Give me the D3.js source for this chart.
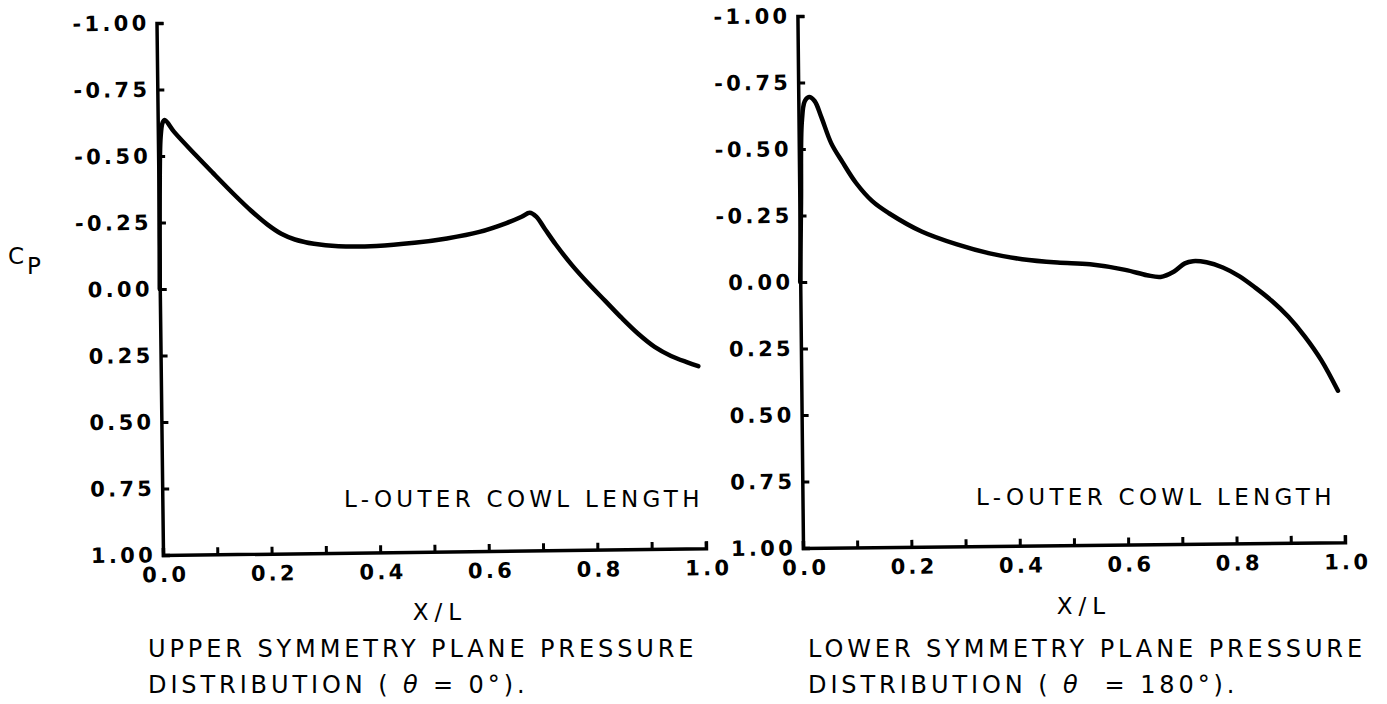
<!DOCTYPE html>
<html>
<head>
<meta charset="utf-8">
<script src="https://cdn.jsdelivr.net/npm/d3@7"></script>
<style>
  body { margin: 0; background: #fff; }
  svg { display: block; }
  .tick text { font-family: "DejaVu Sans", sans-serif; font-weight: bold; font-size: 21px; letter-spacing: 3.3px; fill: #000; }
  .lbl { font-family: "DejaVu Sans", sans-serif; font-size: 23px; fill: #000; }
</style>
</head>
<body>
<svg width="1387" height="704"></svg>
<script>
// upper symmetry plane (theta = 0)
var upperX  = [0.0, 0.002, 0.005, 0.009, 0.013, 0.03, 0.07, 0.1, 0.14, 0.17, 0.2, 0.225, 0.25, 0.285, 0.33, 0.4, 0.47, 0.53, 0.59, 0.64, 0.668, 0.683, 0.695, 0.71, 0.73, 0.76, 0.79, 0.82, 0.85, 0.88, 0.91, 0.94, 0.97, 0.99];
var upperCp = [0.0, -0.35, -0.57, -0.625, -0.635, -0.59, -0.5, -0.435, -0.35, -0.29, -0.237, -0.202, -0.18, -0.163, -0.153, -0.152, -0.162, -0.177, -0.2, -0.232, -0.255, -0.27, -0.255, -0.21, -0.15, -0.07, 0.0, 0.065, 0.13, 0.19, 0.24, 0.275, 0.3, 0.315];

// lower symmetry plane (theta = 180)
var lowerX  = [0.0, 0.003, 0.006, 0.012, 0.02, 0.03, 0.042, 0.06, 0.08, 0.105, 0.135, 0.165, 0.225, 0.29, 0.35, 0.41, 0.475, 0.535, 0.6, 0.64, 0.665, 0.69, 0.71, 0.725, 0.75, 0.78, 0.81, 0.84, 0.87, 0.9, 0.93, 0.96, 0.99];
var lowerCp = [0.0, -0.3, -0.6, -0.68, -0.695, -0.68, -0.62, -0.52, -0.45, -0.37, -0.3, -0.255, -0.185, -0.135, -0.1, -0.077, -0.063, -0.055, -0.033, -0.012, -0.005, -0.025, -0.055, -0.063, -0.058, -0.038, -0.005, 0.04, 0.09, 0.15, 0.225, 0.315, 0.43];

var xTickValues  = [0.0, 0.1, 0.2, 0.3, 0.4, 0.5, 0.6, 0.7, 0.8, 0.9, 1.0];
var xLabelValues = [0.0, 0.2, 0.4, 0.6, 0.8, 1.0];
var yTickValues  = [-1.0, -0.75, -0.5, -0.25, 0.0, 0.25, 0.5, 0.75, 1.0];

var noteText = "L-OUTER COWL LENGTH";
var xTitle = "X/L";
var captionUpper = ["UPPER SYMMETRY PLANE PRESSURE", "DISTRIBUTION ( ", "θ", " = 0°)."];
var captionLower = ["LOWER SYMMETRY PLANE PRESSURE", "DISTRIBUTION ( ", "θ", "  = 180°)."];

var svg = d3.select('svg');

function drawPanel(xs, cps, p) {
  var xScale = d3.scaleLinear().domain([0, 1]).range([0, p.w]);
  var yScale = d3.scaleLinear().domain([-1, 1]).range([-p.h, 0]);

  var g = svg.append('g')
    .attr('transform', 'translate(' + p.x + ',' + p.y + ') rotate(' + p.rot + ')');

  var yAxis = g.append('g')
    .call(d3.axisLeft(yScale)
      .tickValues(yTickValues)
      .tickSizeInner(-7).tickSizeOuter(-7).tickPadding(7)
      .tickFormat(function (d) { return d.toFixed(2); }));

  var xAxis = g.append('g')
    .call(d3.axisBottom(xScale)
      .tickValues(xTickValues)
      .tickSizeInner(-7).tickSizeOuter(-7).tickPadding(12)
      .tickFormat(function (d) { return xLabelValues.indexOf(d) >= 0 ? d.toFixed(1) : ''; }));

  [yAxis, xAxis].forEach(function (a) {
    a.select('.domain').attr('stroke', '#000').attr('stroke-width', 3.5).attr('fill', 'none');
    a.selectAll('.tick line').attr('stroke', '#000').attr('stroke-width', 3);
  });
  xAxis.selectAll('.tick text').attr('dx', '2px');

  var pts = xs.map(function (x, i) { return [x, cps[i]]; });
  var line = d3.line()
    .x(function (d) { return xScale(d[0]); })
    .y(function (d) { return yScale(d[1]); })
    .curve(d3.curveCatmullRom.alpha(0.5));

  g.append('path')
    .datum(pts)
    .attr('d', line)
    .attr('fill', 'none')
    .attr('stroke', '#000')
    .attr('stroke-width', 4.5)
    .attr('stroke-linejoin', 'round')
    .attr('stroke-linecap', 'round');
}

drawPanel(upperX, upperCp, { x: 163, y: 555, w: 543, h: 532, rot: -0.7 });
drawPanel(lowerX, lowerCp, { x: 803, y: 548, w: 542, h: 532, rot: -0.6 });

// C_P axis title
var cp = svg.append('text').attr('class', 'lbl').attr('x', 8).attr('y', 264).style('font-size', '23px');
cp.append('tspan').text('C');
cp.append('tspan').attr('dy', 10).attr('dx', 3).text('P');

function panelText(noteX, noteY, titleX, titleY, cap, capX) {
  svg.append('text').attr('class', 'lbl')
    .attr('x', noteX).attr('y', noteY)
    .style('letter-spacing', '4.3px')
    .text(noteText);
  svg.append('text').attr('class', 'lbl')
    .attr('x', titleX).attr('y', titleY)
    .attr('text-anchor', 'middle')
    .style('letter-spacing', '6px')
    .text(xTitle);
  svg.append('text').attr('class', 'lbl')
    .attr('x', capX).attr('y', 657)
    .style('font-size', '24px')
    .style('letter-spacing', '3.9px')
    .text(cap[0]);
  var t2 = svg.append('text').attr('class', 'lbl')
    .attr('x', capX).attr('y', 693)
    .style('font-size', '24px')
    .style('letter-spacing', '3.9px')
    .attr('xml:space', 'preserve');
  t2.append('tspan').text(cap[1]);
  t2.append('tspan').style('font-style', 'italic').text(cap[2]);
  t2.append('tspan').text(cap[3]);
}

panelText(344, 507, 440, 620, captionUpper, 148);
panelText(976, 505, 1084, 614, captionLower, 808);
</script>
</body>
</html>
